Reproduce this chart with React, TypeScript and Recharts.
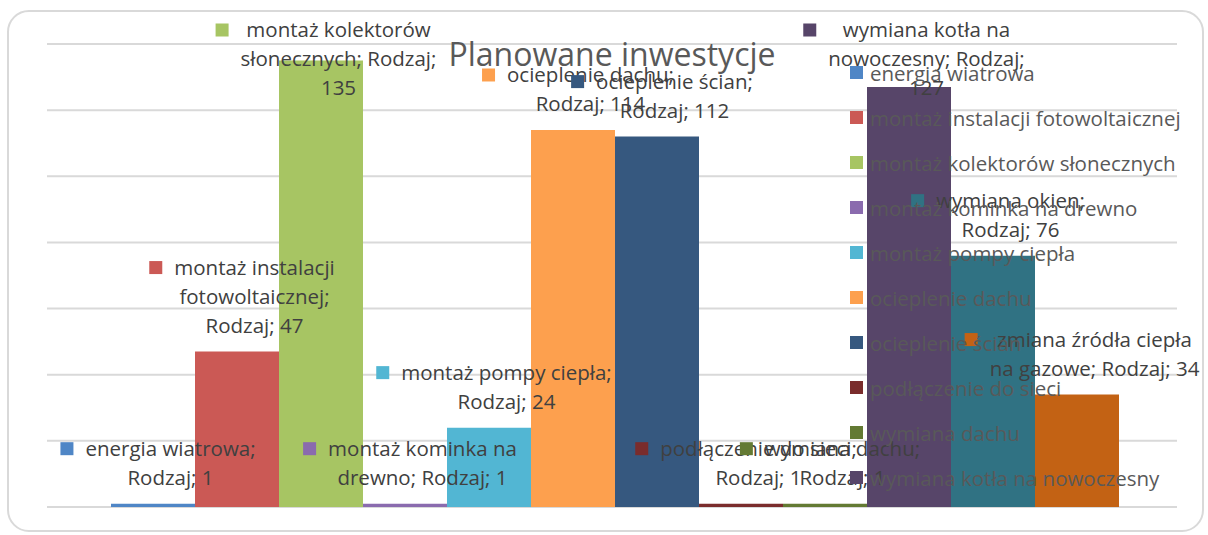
import { Bar, BarChart, CartesianGrid, LabelList, Legend, XAxis, YAxis } from "recharts";

const categories = ["Rodzaj"];

const seriesNames = [
  "energia wiatrowa",
  "montaż instalacji fotowoltaicznej",
  "montaż kolektorów słonecznych",
  "montaż kominka na drewno",
  "montaż pompy ciepła",
  "ocieplenie dachu",
  "ocieplenie ścian",
  "podłączenie do sieci",
  "wymiana dachu",
  "wymiana kotła na nowoczesny",
  "wymiana okien",
  "zmiana źródła ciepła na gazowe",
];

const seriesValues = [1, 47, 135, 1, 24, 114, 112, 1, 1, 127, 76, 34];

const seriesColors = [
  "#4f86c6",
  "#cb5955",
  "#a7c563",
  "#8a6bae",
  "#52b6d3",
  "#fda04e",
  "#36587f",
  "#7a2c2c",
  "#637a33",
  "#574569",
  "#307283",
  "#c36214",
];

const valueTicks = [0, 20, 40, 60, 80, 100, 120, 140];

// data label lines as excel wrapped them, {v} = value
const labelLines = [
  ["energia wiatrowa;", "Rodzaj; {v}"],
  ["montaż instalacji", "fotowoltaicznej;", "Rodzaj; {v}"],
  ["montaż kolektorów", "słonecznych; Rodzaj;", "{v}"],
  ["montaż kominka na", "drewno; Rodzaj; {v}"],
  ["montaż pompy ciepła;", "Rodzaj; {v}"],
  ["ocieplenie dachu;", "Rodzaj; {v}"],
  ["ocieplenie ścian;", "Rodzaj; {v}"],
  ["podłączenie do sieci;", "Rodzaj; {v}"],
  ["wymiana dachu;", "Rodzaj; {v}"],
  ["wymiana kotła na", "nowoczesny; Rodzaj;", "{v}"],
  ["wymiana okien;", "Rodzaj; {v}"],
  ["zmiana źródła ciepła", "na gazowe; Rodzaj; {v}"],
];

// legend gets cut off after this many entries
const legendShown = 10;

const rows = [
  Object.fromEntries([
    ["name", categories[0]],
    ...seriesNames.map((_, i) => [`s${i}`, seriesValues[i]]),
  ]),
];

const FONT = "'Open Sans', 'Noto Sans', sans-serif";
const LABEL_SIZE = 20.5;

let ctx: CanvasRenderingContext2D | null = null;
function textWidth(s: string) {
  if (!ctx) ctx = document.createElement("canvas").getContext("2d");
  if (!ctx) return s.length * 10;
  ctx.font = `${LABEL_SIZE}px 'Open Sans'`;
  return ctx.measureText(s).width;
}

function BarTag(props: any) {
  const vb = props.viewBox ?? props;
  const x = Number(vb.x ?? props.x);
  const y = Number(vb.y ?? props.y);
  const w = Number(vb.width ?? props.width);
  const idx: number = props.idx;
  const lines = labelLines[idx].map((l) => l.replace("{v}", String(props.value)));
  const textW = Math.max(...lines.map(textWidth));
  const key = 13;
  const gap = 12;
  const lh = 29;
  const left = x + w / 2 - (key + gap + textW) / 2 + 5;
  const cx = left + key + gap + textW / 2;
  let first = y - 26 - (lines.length - 1) * lh;
  if (first < 30) first = 30;
  return (
    <g>
      <rect x={left} y={first - 6.5} width={key} height={key} fill={seriesColors[idx]} />
      {lines.map((l, k) => (
        <text
          key={k}
          x={cx}
          y={first + k * lh + 7}
          textAnchor="middle"
          fontSize={LABEL_SIZE}
          fontFamily={FONT}
          fill="#404040"
        >
          {l}
        </text>
      ))}
    </g>
  );
}

function LegendBox({ payload }: any) {
  return (
    <div style={{ fontFamily: FONT, fontSize: LABEL_SIZE, color: "#595959" }}>
      {(payload ?? []).slice(0, legendShown).map((p: any, i: number) => (
        <div
          key={i}
          style={{ height: 45, display: "flex", alignItems: "center", whiteSpace: "nowrap" }}
        >
          <span
            style={{ display: "inline-block", width: 13, height: 13, background: p.color, marginRight: 7 }}
          />
          {p.value}
        </div>
      ))}
    </div>
  );
}

export default function App() {
  return (
    <div style={{ position: "absolute", left: 0, top: 0, width: 1208, height: 535, background: "#fff" }}>
      <div
        style={{
          position: "absolute",
          left: 7,
          top: 10,
          width: 1197,
          height: 522,
          border: "2px solid #d9d9d9",
          borderRadius: 22,
          boxSizing: "border-box",
        }}
      />
      <BarChart
        width={1208}
        height={535}
        data={rows}
        margin={{ top: 44, right: 31, left: 47, bottom: 28 }}
        barCategoryGap={64}
        barGap={0}
      >
        <CartesianGrid vertical={false} stroke="#d9d9d9" strokeWidth={2} />
        <XAxis dataKey="name" hide />
        <YAxis hide domain={[0, 140]} ticks={valueTicks} />
        <Legend
          layout="horizontal"
          align="center"
          verticalAlign="middle"
          content={<LegendBox />}
          wrapperStyle={{ left: 850, top: 50, width: 350 }}
        />
        {seriesNames.map((n, i) => (
          <Bar key={n} dataKey={`s${i}`} name={n} fill={seriesColors[i]} isAnimationActive={false}>
            <LabelList dataKey={`s${i}`} content={(p: any) => <BarTag {...p} idx={i} />} />
          </Bar>
        ))}
      </BarChart>
      <div
        style={{
          position: "absolute",
          left: 612,
          top: 38,
          transform: "translateX(-50%)",
          fontFamily: FONT,
          fontSize: 32,
          lineHeight: "32px",
          color: "#595959",
          whiteSpace: "nowrap",
        }}
      >
        Planowane inwestycje
      </div>
    </div>
  );
}
